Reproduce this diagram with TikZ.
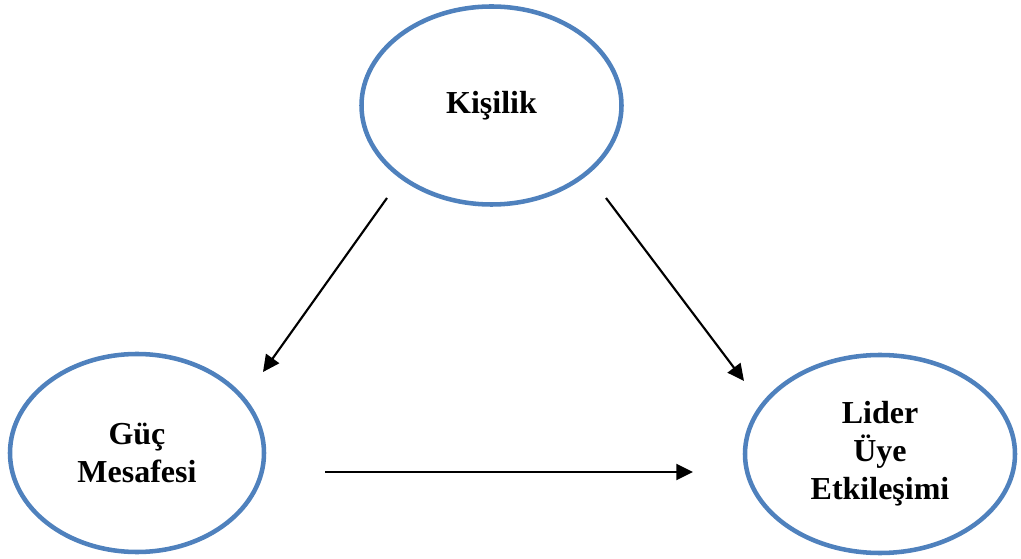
\documentclass[tikz,border=0pt]{standalone}
\usepackage{fontspec}
\setmainfont{Liberation Serif}
\usepackage{xcolor}
\usepackage{tikz}
\usetikzlibrary{shapes.geometric, arrows.meta}

\definecolor{ovalblue}{RGB}{79,129,189}

\begin{document}
\begin{tikzpicture}[x=0.75pt, y=-0.75pt,
  ovalnode/.style={ellipse, draw=ovalblue, line width=3.4pt, inner sep=0pt, minimum height=148.5pt, align=center, font=\fontsize{24}{28.5}\selectfont\bfseries},
  linkarrow/.style={line width=1.6pt, -{Triangle[length=12.5pt, width=12pt]}}]
\useasboundingbox (0,0) rectangle (1021,559);

\node[ovalnode, minimum width=195pt] at (491.5, 105.5) (kisilik) {Ki\c{s}ilik};
\node[ovalnode, minimum width=190.5pt] at (137.0, 453.0) (guc) {G\"u\c{c}\\Mesafesi};
\node[ovalnode, minimum width=202.5pt] at (880.0, 454.0) (lider) {Lider\\\"Uye\\Etkile\c{s}imi};

\coordinate (kisilik-l) at (387, 198);
\coordinate (kisilik-r) at (606, 198);
\coordinate (guc-t) at (263, 372);
\coordinate (guc-r) at (325, 472);
\coordinate (lider-t) at (744, 381);
\coordinate (lider-l) at (693, 472);

\draw[linkarrow] (kisilik-l) -- (guc-t);
\draw[linkarrow] (kisilik-r) -- (lider-t);
\draw[linkarrow] (guc-r) -- (lider-l);

\end{tikzpicture}
\end{document}
